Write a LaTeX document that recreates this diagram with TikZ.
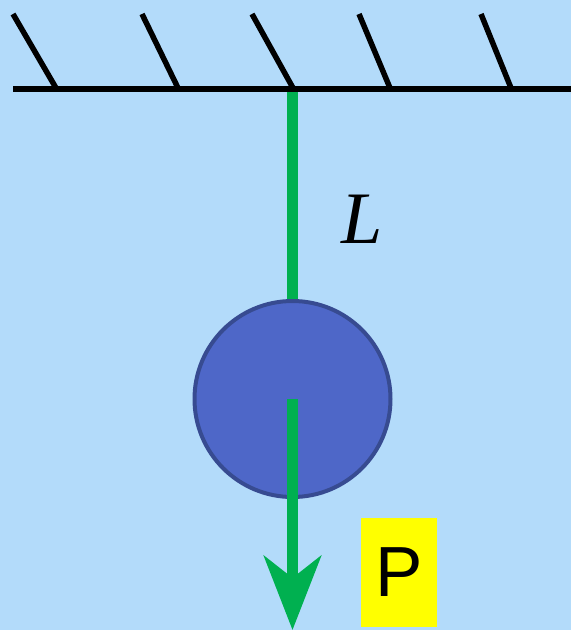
\documentclass[tikz,border=0pt]{standalone}
\usepackage{fontspec}
\setmainfont{Liberation Serif}
\newfontfamily\labelsans{Liberation Sans}
\usetikzlibrary{arrows.meta}
\definecolor{bgblue}{RGB}{179,219,250}
\definecolor{rodgreen}{RGB}{0,176,80}
\definecolor{bobfill}{RGB}{78,103,200}
\definecolor{bobedge}{RGB}{55,75,145}
\definecolor{boxyellow}{RGB}{255,255,0}
\tikzset{
  hatch/.style={line width=5.5pt, black},
  ceiling/.style={line width=6.5pt, black},
  rod/.style={line width=11pt, rodgreen},
  bobstyle/.style={circle, fill=bobfill, draw=bobedge, line width=4pt, minimum size=196pt, inner sep=0pt},
  forcebox/.style={fill=boxyellow, minimum width=76pt, minimum height=109pt, inner sep=0pt, font=\labelsans\fontsize{71}{71}\selectfont},
  lenlabel/.style={font=\itshape\fontsize{74}{74}\selectfont, inner sep=0pt}
}
\begin{document}
\begin{tikzpicture}[x=1pt,y=-1pt]
  \fill[bgblue] (0,0) rectangle (571,630);
  \useasboundingbox (0,0) rectangle (571,630);
  % hatches
  \draw[hatch] (13,14) -- (56,88);
  \draw[hatch] (142,14) -- (178,88);
  \draw[hatch] (252,14) -- (293,88);
  \draw[hatch] (359,14) -- (390,88);
  \draw[hatch] (481,14) -- (511,88);
  % ceiling
  \coordinate (cl) at (13,89);
  \coordinate (cr) at (571,89);
  \draw[ceiling] (cl) -- (cr);
  \coordinate (pivot) at (292.5,92);
  % bob
  \node[bobstyle] (bob) at (292.5,399) {};
  \draw[rod] (pivot) -- (bob.north);
  \coordinate (tip) at (292.5,630);
  \draw[rod, -{Stealth[length=74pt,width=57pt,inset=22pt]}] (bob.center) -- (tip);
  % labels
  \node[lenlabel] (L) at (362.5,219) {L};
  \node[forcebox] (P) at (399,572.5) {P};
\end{tikzpicture}
\end{document}
